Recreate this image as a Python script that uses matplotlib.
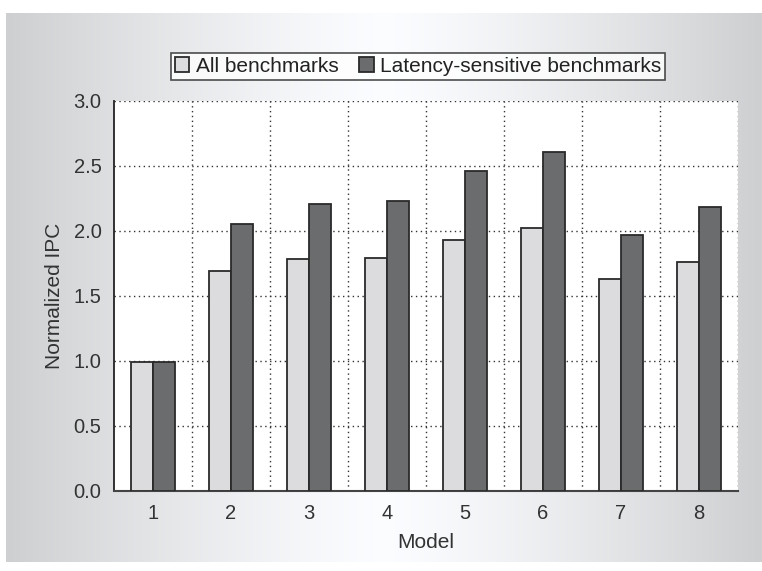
import numpy as np
import matplotlib.pyplot as plt

plt.rcParams['font.family'] = ['Liberation Sans', 'DejaVu Sans']

# datos
models = [1, 2, 3, 4, 5, 6, 7, 8]
all_bench = [0.99, 1.69, 1.78, 1.79, 1.93, 2.02, 1.63, 1.76]
lat_bench = [0.99, 2.05, 2.21, 2.23, 2.46, 2.61, 1.97, 2.18]
yticks = [0.0, 0.5, 1.0, 1.5, 2.0, 2.5, 3.0]

W, H = 762, 571
fig = plt.figure(figsize=(W/100, H/100), dpi=100)

# fondo con degradado horizontal gris-blanco-gris
bg = fig.add_axes([6/W, 9/H, 1-6/W, (562-13)/H])
x = np.linspace(-1, 1, 400)
grad = 1 - 0.18*np.abs(x)**1.3
img = np.dstack([grad*0.985, grad*0.99, grad])
img = np.repeat(img, 2, axis=0).reshape(2, 400, 3)
bg.imshow(img, aspect='auto', extent=[0, 1, 0, 1])
bg.set_axis_off()
bg.set_zorder(-10)

ax = fig.add_axes([114/W, 1-490.5/H, (738-114)/W, (490.5-101)/H])
ax.set_facecolor('white')

xs = np.array(models)
w = 0.28
ax.bar(xs - w/2, all_bench, width=w, color='#dcdcde', edgecolor='#2a2a2a',
       linewidth=1.3, label='All benchmarks', zorder=3)
ax.bar(xs + w/2, lat_bench, width=w, color='#6b6c6e', edgecolor='#2a2a2a',
       linewidth=1.3, label='Latency-sensitive benchmarks', zorder=3)

ax.set_xlim(0.5, 8.5)
ax.set_ylim(0, 3.0)
ax.set_xticks(models)
ax.set_yticks(yticks)
ax.set_yticklabels(['%.1f' % v for v in yticks])
ax.set_xticks(np.arange(1.5, 9.0, 1.0), minor=True)
ax.tick_params(axis='both', which='both', length=0, labelsize=14.5,
               colors='#333333', pad=9)
ax.tick_params(axis='x', pad=10)

ax.grid(True, axis='y', which='major', linestyle=(0, (1, 2.5)),
        color='#333333', linewidth=1.0, zorder=1)
ax.grid(True, axis='x', which='minor', linestyle=(0, (1, 2.5)),
        color='#333333', linewidth=1.0, zorder=1)
ax.grid(False, axis='x', which='major')

for s in ['top', 'right']:
    ax.spines[s].set_visible(False)
ax.spines['left'].set_color('#222222')
ax.spines['left'].set_linewidth(1.3)
ax.spines['bottom'].set_color('#444444')
ax.spines['bottom'].set_linewidth(1.5)

ax.set_xlabel('Model', fontsize=15, color='#333333', labelpad=7)
ax.set_ylabel('Normalized IPC', fontsize=15, color='#333333', labelpad=7)

leg = fig.legend(loc='center', bbox_to_anchor=(418/W, 1-66.5/H), ncol=2,
                 fontsize=15, frameon=True, fancybox=False, handlelength=0.7,
                 handleheight=0.7, handletextpad=0.3, columnspacing=1.0,
                 borderpad=0.2, labelcolor='#222222')
leg.get_frame().set_edgecolor('#222222')
leg.get_frame().set_linewidth(1.2)
leg.get_frame().set_facecolor('white')

fig.savefig('out.png', dpi=100)
